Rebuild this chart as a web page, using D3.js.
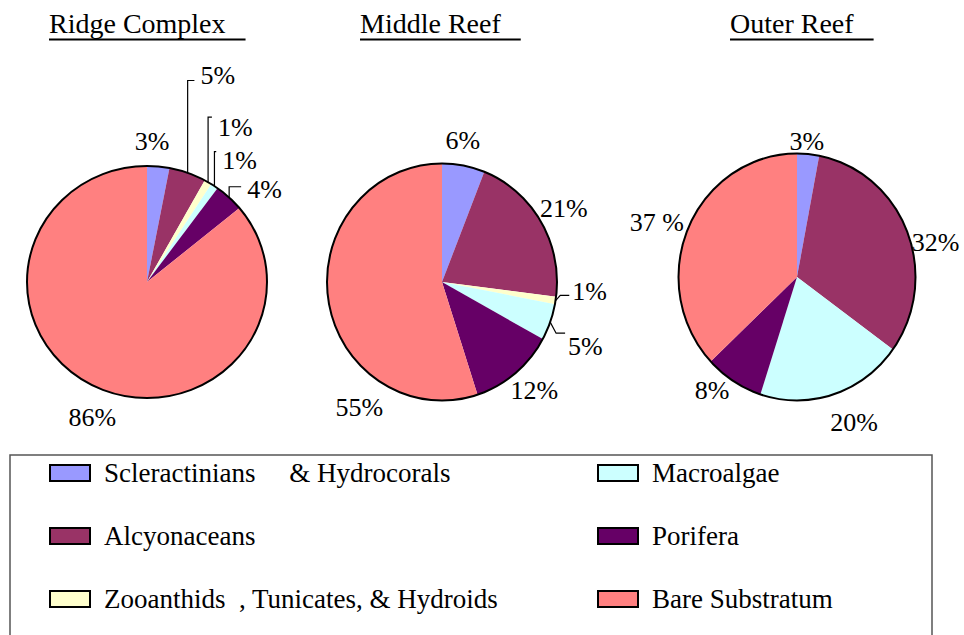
<!DOCTYPE html>
<html>
<head>
<meta charset="utf-8">
<script src="https://cdn.jsdelivr.net/npm/d3@7"></script>
<style>
  body { margin: 0; background: #fff; }
</style>
</head>
<body>
<div id="chart"></div>
<script>
// categories (slice order, clockwise from 12 o'clock)
var categories = ["Scleractinians     & Hydrocorals", "Alcyonaceans", "Zooanthids  , Tunicates, & Hydroids",
                  "Macroalgae", "Porifera", "Bare Substratum"];
var colors = ["#9999FF", "#993366", "#FFFFCC", "#CCFFFF", "#660066", "#FF8080"];

var titles = ["Ridge Complex", "Middle Reef", "Outer Reef"];

// percent cover per zone
var ridgeValues  = [3, 5, 1, 1, 4, 86];
var middleValues = [6, 21, 1, 5, 12, 55];
var outerValues  = [3, 32, 0, 20, 8, 37];

var ridgeLabels  = ["3%", "5%", "1%", "1%", "4%", "86%"];
var middleLabels = ["6%", "21%", "1%", "5%", "12%", "55%"];
var outerLabels  = ["3%", "32%", "", "20%", "8%", "37 %"];

var svgWidth = 964;
var svgHeight = 635;

var svg = d3.select("#chart")
  .append("svg")
  .attr("width", svgWidth)
  .attr("height", svgHeight);

// helper: serif text element
function addText(parent, x, y, size, str) {
  return parent.append("text")
    .attr("x", x)
    .attr("y", y)
    .attr("font-size", size)
    .style("font-family", "'Liberation Serif'")
    .attr("fill", "#000")
    .text(str);
}

// layout of each pie: centre, radii, title position, label nudges and leader lines
var pieLayout = [
  { cx: 147, cy: 282, rx: 120, ry: 116, titleX: 49,
    nudges: [[-8, -8], [24, -81], [18, -40], [15, -12], [23, 4], [4, 14]],
    leaders: [null, ["v", 5], ["v", -10], ["v", -8], ["v", -2], null] },
  { cx: 442, cy: 282, rx: 115, ry: 118.5, titleX: 360,
    nudges: [[-4, -8], [8, -5], [17, -12], [19, 18], [8, 3], [48, 104]],
    leaders: [null, null, ["h", 4], ["h", -13], null, null] },
  { cx: 797, cy: 277, rx: 118.5, ry: 123.5, titleX: 730,
    nudges: [[-3, 5], [12, 17], [0, 0], [15, 10], [-12, -7], [-15, 1]],
    leaders: [null, null, null, null, null, null] }
];

var zones = [
  { values: ridgeValues, labels: ridgeLabels },
  { values: middleValues, labels: middleLabels },
  { values: outerValues, labels: outerLabels }
];

var pie = d3.pie().sort(null).value(d => d);
var labelK = 1.15;

zones.forEach(function(zone, zi) {
  var L = pieLayout[zi];

  // title + underline
  var title = addText(svg, L.titleX, 33, 28, titles[zi]);
  var tw = title.node().getComputedTextLength();
  svg.append("line")
    .attr("x1", L.titleX).attr("x2", L.titleX + tw + 20)
    .attr("y1", 39.5).attr("y2", 39.5)
    .attr("stroke", "#000").attr("stroke-width", 2);

  var arcs = pie(zone.values);
  var arc = d3.arc().innerRadius(0).outerRadius(L.rx);

  var g = svg.append("g")
    .attr("transform", `translate(${L.cx}, ${L.cy}) scale(1, ${L.ry / L.rx})`);

  g.selectAll("path.slice")
    .data(arcs)
    .enter()
    .append("path")
    .attr("class", "slice")
    .attr("d", arc)
    .attr("fill", (d, i) => colors[i]);

  g.append("ellipse")
    .attr("rx", L.rx).attr("ry", L.rx)
    .attr("fill", "none")
    .attr("stroke", "#000")
    .attr("stroke-width", 2);

  // labels
  arcs.forEach(function(d, i) {
    var txt = zone.labels[i];
    if (!txt || d.value === 0) return;
    var mid = (d.startAngle + d.endAngle) / 2;
    var n = L.nudges[i];
    var px = L.cx + L.rx * labelK * Math.sin(mid) + n[0];
    var py = L.cy - L.ry * labelK * Math.cos(mid) + n[1];

    var t = addText(svg, px, py + 9, 26, txt)
      .attr("text-anchor", "middle");

    var lead = L.leaders[i];
    if (lead) {
      var w = t.node().getComputedTextLength();
      var left = px - w / 2;
      var ex = L.cx + L.rx * Math.sin(mid);
      var ey = L.cy - L.ry * Math.cos(mid);
      var ly = py + lead[1];
      var pts;
      if (lead[0] === "v") {
        pts = [[ex, ey], [ex, ly], [left - 6, ly]];
      } else {
        pts = [[ex, ey], [left - 12, ly], [left - 3, ly]];
      }
      svg.append("path")
        .attr("d", d3.line()(pts))
        .attr("fill", "none")
        .attr("stroke", "#000")
        .attr("stroke-width", 1.2);
    }
  });
});

// legend
var legend = svg.append("g");
legend.append("rect")
  .attr("x", 10).attr("y", 455)
  .attr("width", 922).attr("height", 220)
  .attr("fill", "none")
  .attr("stroke", "#555")
  .attr("stroke-width", 1.5);

var legendCols = [50, 598];
var legendRows = [473, 536, 599];

categories.forEach(function(name, i) {
  var col = Math.floor(i / 3);
  var row = i % 3;
  var x = legendCols[col];
  var y = legendRows[row];
  legend.append("rect")
    .attr("x", x).attr("y", y - 8)
    .attr("width", 40).attr("height", 16)
    .attr("fill", colors[i])
    .attr("stroke", "#000")
    .attr("stroke-width", 2);
  // keep the wide gaps of the original legend text
  var parts = name.split(/ {2,}/);
  var gaps = name.match(/ {2,}/g) || [];
  var t = addText(legend, x + 54, y + 9, 27, parts[0]);
  parts.slice(1).forEach(function(p, k) {
    t.append("tspan").attr("dx", gaps[k].length * 6.75).text(p);
  });
});
</script>
</body>
</html>
